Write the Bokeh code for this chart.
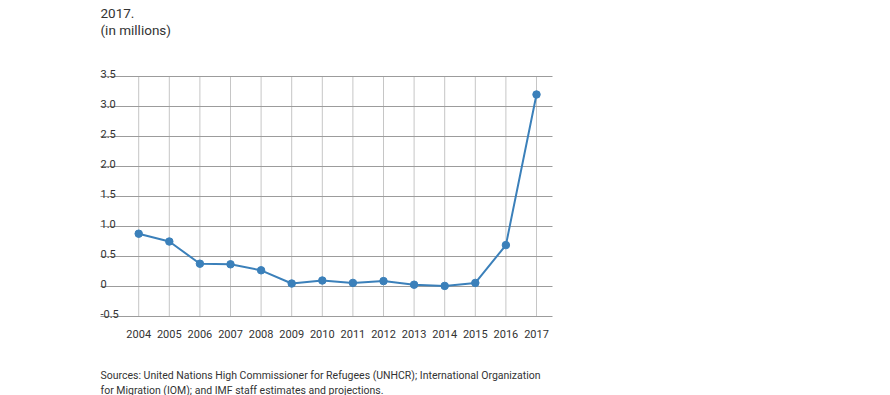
from bokeh.plotting import figure
from bokeh.models import ColumnDataSource
from bokeh.core.properties import value
from bokeh.embed import file_html
from bokeh.resources import INLINE

years = [2004, 2005, 2006, 2007, 2008, 2009, 2010, 2011, 2012, 2013, 2014, 2015, 2016, 2017]
year_labels = [str(y) for y in years]
values = [0.88, 0.75, 0.38, 0.37, 0.27, 0.05, 0.10, 0.06, 0.09, 0.03, 0.01, 0.06, 0.69, 3.20]
yticks = [-0.5, 0, 0.5, 1.0, 1.5, 2.0, 2.5, 3.0, 3.5]
ytick_labels = ["-0.5", "0", "0.5", "1.0", "1.5", "2.0", "2.5", "3.0", "3.5"]
title_lines = ["2017.", "(in millions)"]
source_lines = [
    "Sources: United Nations High Commissioner for Refugees (UNHCR); International Organization",
    "for Migration (IOM); and IMF staff estimates and projections.",
]

FONT = "Roboto"
TXT = "#333333"
BLUE = "#3b80ba"

W, H = 880, 395
PX_YEAR = 30.6          # pixels per year
PX_UNIT = 60.0          # pixels per million
X0_PX, Y0_PX = 138.2, 286.0   # pixel position of (2004, 0)
x_start = years[0] - X0_PX / PX_YEAR
x_end = x_start + W / PX_YEAR
y_end = Y0_PX / PX_UNIT
y_start = y_end - H / PX_UNIT

# horizontal extent of the grid (layout)
GRID_X0 = years[0] - (X0_PX - 100) / PX_YEAR
GRID_X1 = years[-1] + 16 / PX_YEAR

p = figure(width=W, height=H, output_backend="svg", toolbar_location=None,
           x_range=(x_start, x_end), y_range=(y_start, y_end),
           x_axis_location=None, y_axis_location=None,
           min_border=0, min_border_left=0, min_border_right=0,
           min_border_top=0, min_border_bottom=0)
p.outline_line_color = None
p.background_fill_color = "white"
p.border_fill_color = "white"
p.grid.visible = False

ny = len(yticks)
nx = len(years)
# vertical gridlines
p.segment(x0=years, y0=[yticks[0]] * nx, x1=years, y1=[yticks[-1]] * nx,
          line_color="#c6c6c6", line_width=1)
# horizontal gridlines
p.segment(x0=[GRID_X0] * ny, y0=yticks, x1=[GRID_X1] * ny, y1=yticks,
          line_color="#9c9c9c", line_width=1)

# y tick labels above their gridlines
p.text(x=[GRID_X0] * ny, y=yticks, text=ytick_labels, text_font=value(FONT),
       text_font_size="11px", text_color=TXT, text_align="left",
       text_baseline="alphabetic", y_offset=-3)
# x tick labels below the grid
p.text(x=years, y=[yticks[0]] * nx, text=year_labels, text_font=value(FONT),
       text_font_size="11px", text_color=TXT, text_align="center",
       text_baseline="alphabetic", y_offset=17)

src = ColumnDataSource(dict(x=years, y=values))
p.line(x="x", y="y", source=src, line_color=BLUE, line_width=2)
p.scatter(x="x", y="y", source=src, size=7.5, fill_color=BLUE, line_color=BLUE)

# title lines
p.text(x=[GRID_X0] * 2, y=[y_end] * 2, text=title_lines, text_font=value(FONT),
       text_font_size="13.5px", text_color=TXT, text_align="left",
       text_baseline="alphabetic", y_offset=[12.5, 29])
# source lines
p.text(x=[GRID_X0] * 2, y=[y_end] * 2, text=source_lines, text_font=value(FONT),
       text_font_size="10.5px", text_color=TXT, text_align="left",
       text_baseline="alphabetic", y_offset=[375, 389.5])

open("out.html", "w").write(file_html(p, INLINE))
